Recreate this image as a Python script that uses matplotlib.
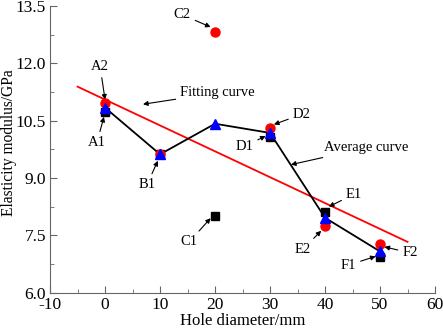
import matplotlib
matplotlib.use("Agg")
import matplotlib.pyplot as plt
from matplotlib.ticker import MultipleLocator, FormatStrFormatter

plt.rcParams['font.family'] = ['Liberation Serif', 'DejaVu Serif']
plt.rcParams['axes.unicode_minus'] = False

hole = [0, 10, 20, 30, 40, 50]
series1 = [10.73, 9.62, 8.0, 10.07, 8.12, 6.94]      # squares A1..F1
series2 = [10.96, 9.62, 12.81, 10.31, 7.75, 7.27]    # circles A2..F2
average = [10.84, 9.62, 10.42, 10.18, 7.96, 7.08]    # triangles
fit_x = [-5, 55]
fit_y = [11.39, 7.33]

labels = [
    # text, arrow target, text position
    ("A2", (0, 11.05), (-0.9, 11.92)),
    ("A1", (-0.2, 10.6), (-1.5, 9.92)),
    ("B1", (9.6, 9.45), (7.6, 8.82)),
    ("C1", (19.2, 7.95), (15.3, 7.33)),
    ("C2", (19.2, 12.95), (14.0, 13.27)),
    ("Fitting curve", (6.9, 10.93), (20.5, 11.23)),
    ("D2", (30.7, 10.4), (35.8, 10.67)),
    ("D1", (29.2, 10.1), (25.3, 9.82)),
    ("Average curve", (33.8, 9.35), (47.5, 9.79)),
    ("E1", (40.7, 8.25), (45.3, 8.58)),
    ("E2", (39.3, 7.62), (36.0, 7.14)),
    ("F1", (49.2, 6.95), (44.2, 6.72)),
    ("F2", (50.8, 7.2), (55.5, 7.04)),
]

fig = plt.figure(figsize=(4.43, 3.33), dpi=100)
ax = fig.add_axes([0.113, 0.121, 0.869, 0.861])

ax.plot(fit_x, fit_y, color='red', lw=1.3, zorder=2)
ax.plot(hole, average, color='black', lw=1.3, zorder=2)
ax.plot(hole, series1, 's', color='black', ms=5.5, zorder=3)
ax.plot(hole, series2, 'o', color='red', ms=6.5, zorder=4)
ax.plot(hole, average, '^', color='blue', ms=7, zorder=5)

for txt, xy, xyt in labels:
    ax.annotate(txt, xy=xy, xytext=xyt, ha='center', va='center', fontsize=10.5,
                arrowprops=dict(arrowstyle='-|>', color='black', lw=0.8,
                                mutation_scale=7, shrinkA=1.5, shrinkB=0))

ax.set_xlim(-10, 60)
ax.set_ylim(6.0, 13.5)
ax.xaxis.set_major_locator(MultipleLocator(10))
ax.xaxis.set_minor_locator(MultipleLocator(5))
ax.yaxis.set_major_locator(MultipleLocator(1.5))
ax.yaxis.set_minor_locator(MultipleLocator(0.75))
ax.yaxis.set_major_formatter(FormatStrFormatter('%.1f'))
ax.spines['top'].set_visible(False)
ax.spines['right'].set_visible(False)
for s in ('left', 'bottom'):
    ax.spines[s].set_color('#666666')
ax.tick_params(which='both', direction='in', colors='#666666', labelcolor='black', labelsize=12.5)
ax.tick_params(which='major', length=5, pad=3)
ax.tick_params(which='minor', length=3)
ax.set_xlabel('Hole diameter/mm', fontsize=12, labelpad=0)
ax.set_ylabel('Elasticity modulus/GPa', fontsize=11.2)
ax.yaxis.set_label_coords(-0.085, 0.525)

fig.savefig('out.png', dpi=100)
